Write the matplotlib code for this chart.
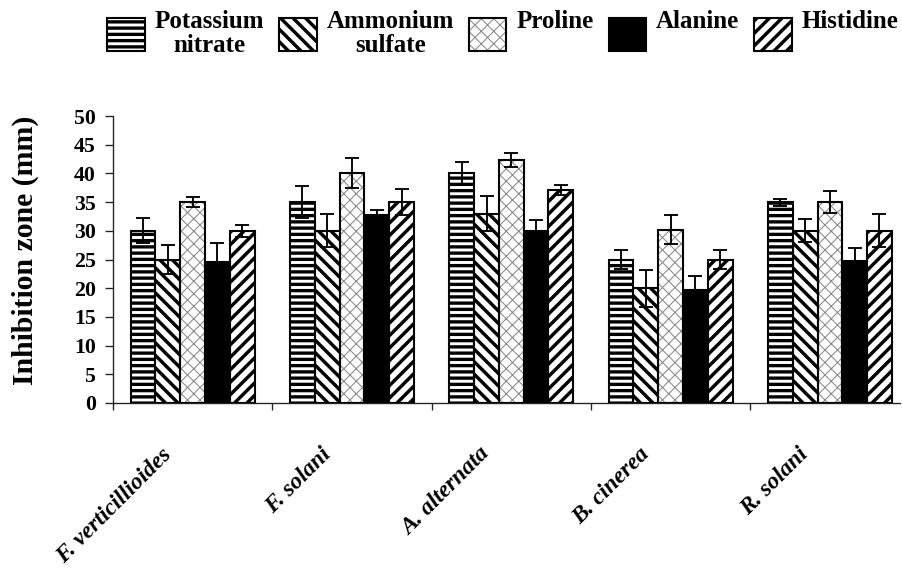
import numpy as np
import matplotlib
matplotlib.use('Agg')
import matplotlib.pyplot as plt
from matplotlib.transforms import ScaledTranslation, blended_transform_factory

fungi = ['F. verticillioides', 'F. solani', 'A. alternata', 'B. cinerea', 'R. solani']
sources = ['Potassium\nnitrate', 'Ammonium\nsulfate', 'Proline\n', 'Alanine\n', 'Histidine\n']

potassium_nitrate = [30, 35, 40, 25, 35]
potassium_nitrate_err = [2.2, 2.8, 1.9, 1.6, 0.6]
ammonium_sulfate = [25, 30, 33, 20, 30]
ammonium_sulfate_err = [2.5, 2.9, 3.0, 3.2, 2.0]
proline = [35, 40, 42.3, 30.2, 35]
proline_err = [0.9, 2.6, 1.2, 2.5, 1.9]
alanine = [24.6, 32.8, 29.9, 19.7, 24.7]
alanine_err = [3.2, 0.9, 2.0, 2.5, 2.3]
histidine = [30, 35, 37.1, 25, 30]
histidine_err = [1.0, 2.3, 0.8, 1.6, 2.9]

values = [potassium_nitrate, ammonium_sulfate, proline, alanine, histidine]
errors = [potassium_nitrate_err, ammonium_sulfate_err, proline_err, alanine_err, histidine_err]

# hatch, facecolor, hatch colour, hatch linewidth
styles = [('--', 'white', 'black', 3.2),
          ('\\\\', 'white', 'black', 3.3),
          ('xx', 'white', '#8a8a8a', 1.0),
          ('', 'black', 'black', 1.0),
          ('//', 'white', 'black', 3.3)]
hatch_lw = {s[0]: s[3] for s in styles}

plt.rcParams['font.family'] = ['Liberation Serif', 'DejaVu Serif']
plt.rcParams['font.weight'] = 'bold'

fig = plt.figure(figsize=(903 / 75, 569 / 75), dpi=75)
ax = fig.add_axes([113 / 903, 1 - 403 / 569, 787 / 903, 287 / 569])

x = np.arange(len(fungi))
w = 0.1555
handles = []
for k in range(5):
    hatch, fc, hc, hlw = styles[k]
    pos = x + (k - 2) * w
    # hatch layer
    b1 = ax.bar(pos, values[k], w, color=fc, edgecolor=hc, hatch=hatch, linewidth=0, zorder=2)
    for p in b1:
        if hasattr(p, 'set_hatch_linewidth'):
            p.set_hatch_linewidth(hlw)
    # outline + error bars
    b2 = ax.bar(pos, values[k], w, fill=False, edgecolor='black', linewidth=2.0, zorder=3,
                yerr=errors[k], capsize=7,
                error_kw=dict(ecolor='black', elinewidth=1.8, capthick=1.8, zorder=4))
    handles.append((b1[0], b2[0]))

ax.set_ylim(0, 50)
ax.set_yticks(np.arange(0, 51, 5))
ax.set_xlim(-0.5, 4.44)
ax.set_xticks(np.arange(-0.5, 4.0, 1.0))
ax.set_xticklabels([])
for s in ['top', 'right']:
    ax.spines[s].set_visible(False)
for s in ['left', 'bottom']:
    ax.spines[s].set_color('#222222')
    ax.spines[s].set_linewidth(1.3)
ax.tick_params(axis='y', direction='out', length=7.5, width=1.3, color='#222222',
               labelsize=21, pad=9)
ax.tick_params(axis='x', direction='out', length=6.5, width=1.3, color='#222222')

trans = blended_transform_factory(ax.transData, ax.transAxes)
for i, name in enumerate(fungi):
    off = ScaledTranslation(-17 / 75, -41 / 75, fig.dpi_scale_trans)
    ax.text(i, 0, name, transform=trans + off, rotation=45, ha='right', va='top',
            fontsize=22.5, fontstyle='italic', fontweight='bold')

fig.text(25 / 903, 1 - 250 / 569, 'Inhibition zone (mm)', rotation=90, ha='center',
         va='center', fontsize=28.5, fontweight='bold')

leg = fig.legend(handles, sources, loc='upper left', bbox_to_anchor=(107 / 903, 1 - 10 / 569),
                 ncol=5, frameon=False, fontsize=24, handlelength=1.5, handleheight=1.7,
                 handletextpad=0.4, columnspacing=0.6, borderpad=0, borderaxespad=0)
for t in leg.get_texts():
    t.set_multialignment('center')
    t.set_linespacing(1.08)
for p in leg.get_patches():
    h = p.get_hatch()
    if h and hasattr(p, 'set_hatch_linewidth'):
        p.set_hatch_linewidth(hatch_lw[h])

fig.savefig('out.png', dpi=75)
